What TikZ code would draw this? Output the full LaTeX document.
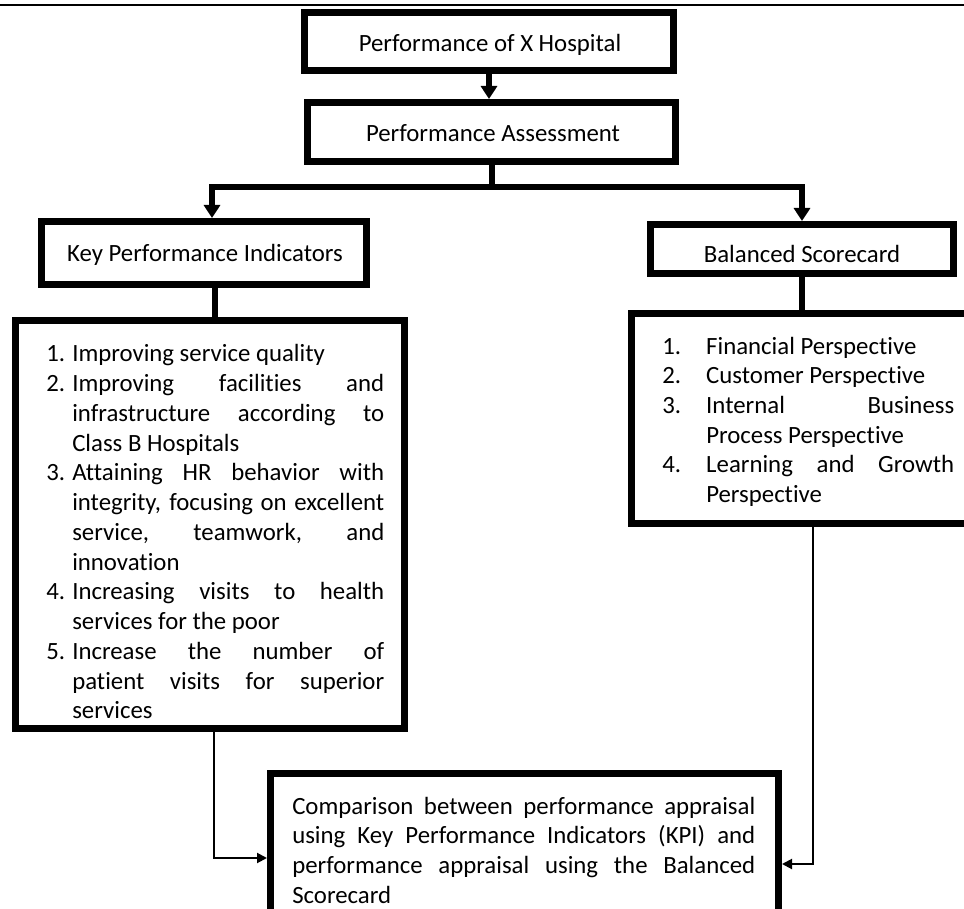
\documentclass[tikz,border=0pt]{standalone}
\usepackage{fontspec}
\setmainfont[Ligatures=NoCommon]{Carlito}
\usetikzlibrary{arrows.meta,calc}
\newdimen\px \px=0.75pt
\newcommand{\mainfs}{\fontsize{18.6pt}{22.3pt}\selectfont}
\newcommand{\jline}[2]{\makebox[#1\px][s]{#2}}
\newcommand{\numk}[1]{\makebox[26\px][l]{#1}}
\newcommand{\numb}[1]{\makebox[44\px][l]{#1}}
\begin{document}
\begin{tikzpicture}[x=0.75pt,y=-0.75pt,
  box/.style={draw, line width=5.25pt, inner sep=0pt, fill=white},
  txt/.style={font=\mainfs, inner sep=0pt},
  conn/.style={line width=4.5pt},
  carr/.style={conn, -{Triangle[width=12pt,length=9.75pt]}},
  tarr/.style={line width=1.5pt, -{Triangle[width=7.5pt,length=7.5pt]}}]
\useasboundingbox (0,0) rectangle (964,909);
\fill[white] (0,0) rectangle (964,909);
\clip (0,0) rectangle (964,909);

% header rule
\coordinate (rl) at (0,5);
\coordinate (rr) at (964,5);
\draw[line width=1.2pt] (rl) -- (rr);

% boxes
\node[box, minimum width=369\px, minimum height=58\px] (b1) at (489,41.5) {};
\node[box, minimum width=368\px, minimum height=59\px] (b2) at (491.5,132) {};
\node[box, minimum width=325\px, minimum height=63\px] (kpi) at (204,253) {};
\node[box, minimum width=303\px, minimum height=49\px] (bsc) at (802,249) {};
\node[box, minimum width=389\px, minimum height=408\px] (kl) at (210,524.5) {};
\node[box, minimum width=363\px, minimum height=210\px] (bl) at (813,418.5) {};
\node[box, minimum width=508\px, minimum height=169\px] (cmp) at (524.5,858) {};

% titles
\node[txt, anchor=base] (t1) at (490,52) {Performance of X Hospital};
\node[txt, anchor=base] (t2) at (493,142) {Performance Assessment};
\node[txt, anchor=base] (t3) at (205,262) {Key Performance Indicators};
\node[txt, anchor=base] (t4) at (802,263) {Balanced Scorecard};

% KPI list
\node[txt, anchor=base west] (kt) at (46,362) {\parbox[t]{338\px}{\mainfs\setlength\parindent{0pt}%
\numk{1.}Improving service quality\\
\numk{2.}\jline{312}{Improving facilities and}\\
\hspace*{26\px}\jline{312}{infrastructure according to}\\
\hspace*{26\px}Class B Hospitals\\
\numk{3.}\jline{312}{Attaining HR behavior with}\\
\hspace*{26\px}\jline{312}{integrity, focusing on excellent}\\
\hspace*{26\px}\jline{312}{service, teamwork, and}\\
\hspace*{26\px}innovation\\
\numk{4.}\jline{312}{Increasing visits to health}\\
\hspace*{26\px}services for the poor\\
\numk{5.}\jline{312}{Increase the number of}\\
\hspace*{26\px}\jline{312}{patient visits for superior}\\
\hspace*{26\px}services}};

% BSC list
\node[txt, anchor=base west] (bt) at (662,354) {\parbox[t]{292\px}{\mainfs\setlength\parindent{0pt}%
\numb{1.}Financial Perspective\\
\numb{2.}Customer Perspective\\
\numb{3.}\jline{248}{Internal Business}\\
\hspace*{44\px}Process Perspective\\
\numb{4.}\jline{248}{Learning and Growth}\\
\hspace*{44\px}Perspective}};

% comparison text
\node[txt, anchor=base west] (ct) at (292,814) {\parbox[t]{463\px}{\mainfs\setlength\parindent{0pt}%
\jline{463}{Comparison between performance appraisal}\\
\jline{463}{using Key Performance Indicators (KPI) and}\\
\jline{463}{performance appraisal using the Balanced}\\
Scorecard}};

% connectors
\coordinate (split) at (b2.south |- 0,187);
\draw[carr] (b1.south) -- (b1.south |- b2.north);
\draw[conn] (b2.south) -- (split);
\draw[carr] (split) -| ([xshift=8\px]kpi.north);
\draw[carr] (split) -| (bsc.north);
\draw[conn] ([xshift=11\px]kpi.south) -- ([xshift=11\px]kpi.south |- kl.north);
\draw[conn] (bsc.south) -- (bsc.south |- bl.north);
\draw[tarr] ([xshift=4\px]kl.south) |- (cmp.west);
\draw[tarr] (bl.south) |- ([yshift=-6\px]cmp.east);
\end{tikzpicture}
\end{document}
